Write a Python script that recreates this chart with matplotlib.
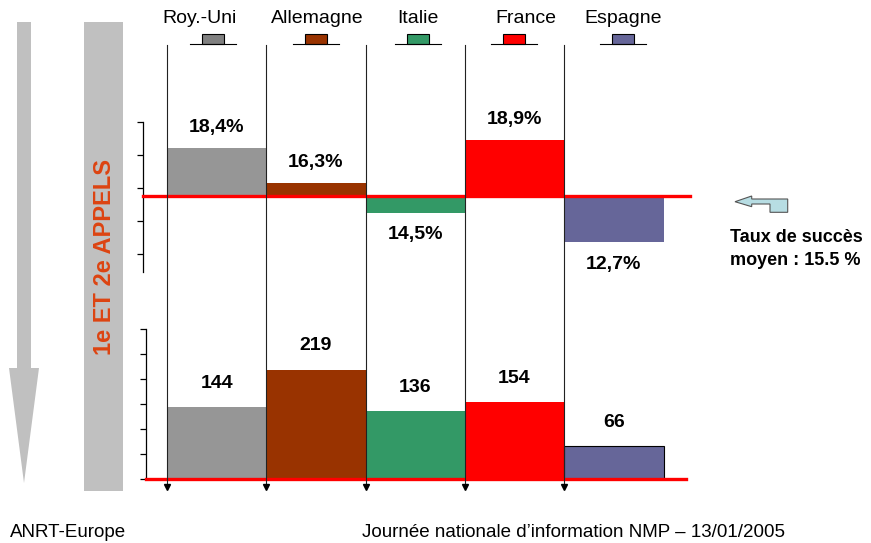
import matplotlib
matplotlib.use('Agg')
import matplotlib.pyplot as plt
from matplotlib.patches import Rectangle, Polygon

plt.rcParams['font.family'] = ['Liberation Sans', 'DejaVu Sans']

# Data
countries = ['Roy.-Uni', 'Allemagne', 'Italie', 'France', 'Espagne']
taux = [18.4, 16.3, 14.5, 18.9, 12.7]      # taux de succes (%)
taux_moyen = 15.5
projets = [144, 219, 136, 154, 66]         # nombre de projets
colors = ['#969696', '#993300', '#339966', '#ff0000', '#666699']
swatch_colors = ['#808080', '#993300', '#339966', '#ff0000', '#666699']

W, H = 871, 543
fig = plt.figure(figsize=(W / 100, H / 100), dpi=100)

# cell geometry in pixels (left edge of first country, width of one country)
cell0, cellw = 167, 99.3


def px_axes(x0, y0, x1, y1):
    return fig.add_axes([x0 / W, 1 - y1 / H, (x1 - x0) / W, (y1 - y0) / H])


def style_axes(ax, x0, x1):
    ax.set_xlim((x0 - cell0) / cellw, (x1 - cell0) / cellw)
    ax.patch.set_visible(False)
    for s in ['top', 'right', 'bottom']:
        ax.spines[s].set_visible(False)
    ax.spines['left'].set_linewidth(0.9)
    ax.set_xticks([])
    ax.tick_params(axis='y', direction='out', length=4, width=0.9, labelleft=False)


# Top panel: success rate around the mean
ax1 = px_axes(143, 122, 690, 272)
style_axes(ax1, 143, 690)
ax1.set_ylim(20 - 150 / 16.5, 20)
ax1.set_yticks([12, 14, 16, 18, 20])
ax1.bar(range(len(countries)), [v - taux_moyen for v in taux], bottom=taux_moyen,
        width=1, align='edge', color=colors, linewidth=0)
ax1.axhline(taux_moyen, color='red', lw=2.4, clip_on=False, zorder=4)
for i, v in enumerate(taux):
    off = 15 if v > taux_moyen else -16
    ax1.annotate(f"{v:.1f}".replace('.', ',') + '%', (i + 0.5, v), xytext=(0, off),
                 textcoords='offset points', ha='center', va='center',
                 fontsize=14, fontweight='bold', annotation_clip=False)

# Bottom panel: number of projects
ax2 = px_axes(146, 329, 686, 479)
style_axes(ax2, 146, 686)
ax2.set_ylim(0, 300)
ax2.set_yticks(range(0, 301, 50))
bars = ax2.bar(range(len(countries)), projets, width=1, align='edge', color=colors, linewidth=0)
bars[-1].set_edgecolor('black')
bars[-1].set_linewidth(0.8)
ax2.axhline(0, color='red', lw=2.4, clip_on=False, zorder=4)
for i, v in enumerate(projets):
    ax2.annotate(str(v), (i + 0.5, v), xytext=(0, 17), textcoords='offset points',
                 ha='center', va='center', fontsize=14, fontweight='bold',
                 annotation_clip=False)

# Overlay in pixel coordinates for the slide decorations
ov = fig.add_axes([0, 0, 1, 1], zorder=10)
ov.set_xlim(0, W)
ov.set_ylim(H, 0)
ov.axis('off')
ov.patch.set_visible(False)

# country dividers with small arrow heads
for i in range(len(countries)):
    x = cell0 + i * cellw
    ov.plot([x, x], [45, 484], color='#222222', lw=0.8)
    ov.plot(x, 487, marker='v', ms=4.5, color='black')

# header: names and small swatches
header_x = [200, 317, 418, 526, 623]
swatch_x = [213, 316, 418, 514, 623]
for name, hx, sx, c in zip(countries, header_x, swatch_x, swatch_colors):
    ov.text(hx, 23, name, fontsize=14, ha='center', va='baseline')
    ov.add_patch(Rectangle((sx - 11, 34), 22, 10, facecolor=c, edgecolor='black', lw=0.8))
    ov.plot([sx - 23, sx + 23], [44, 44], color='black', lw=0.8)

# left grey arrow and band
ov.add_patch(Polygon([(17, 22), (31, 22), (31, 368), (39, 368), (24, 483), (9, 368), (17, 368)],
                     closed=True, facecolor='#c0c0c0', edgecolor='none'))
ov.add_patch(Rectangle((84, 22), 39, 469, facecolor='#c0c0c0', edgecolor='none'))
ov.text(104, 257, '1e ET 2e APPELS', rotation=90, color='#dd4411', fontsize=17,
        fontweight='bold', ha='center', va='center')

# pointer to the mean line
ov.add_patch(Polygon([(735, 201.7), (751.7, 196), (751.7, 199), (787.7, 199), (787.7, 212.3),
                      (770, 212.3), (770, 204), (751.7, 204), (751.7, 206.7)],
                     closed=True, facecolor='#b7dde3', edgecolor='#555555', lw=0.8))
ov.text(730, 242, 'Taux de succès', fontsize=13, fontweight='bold', va='baseline')
ov.text(730, 265, f'moyen : {taux_moyen} %', fontsize=13, fontweight='bold', va='baseline')

# footer
ov.text(10, 537, 'ANRT-Europe', fontsize=13.5, va='baseline')
ov.text(362, 537, 'Journée nationale d’information NMP – 13/01/2005', fontsize=13.5, va='baseline')

fig.savefig('out.png', dpi=100)
